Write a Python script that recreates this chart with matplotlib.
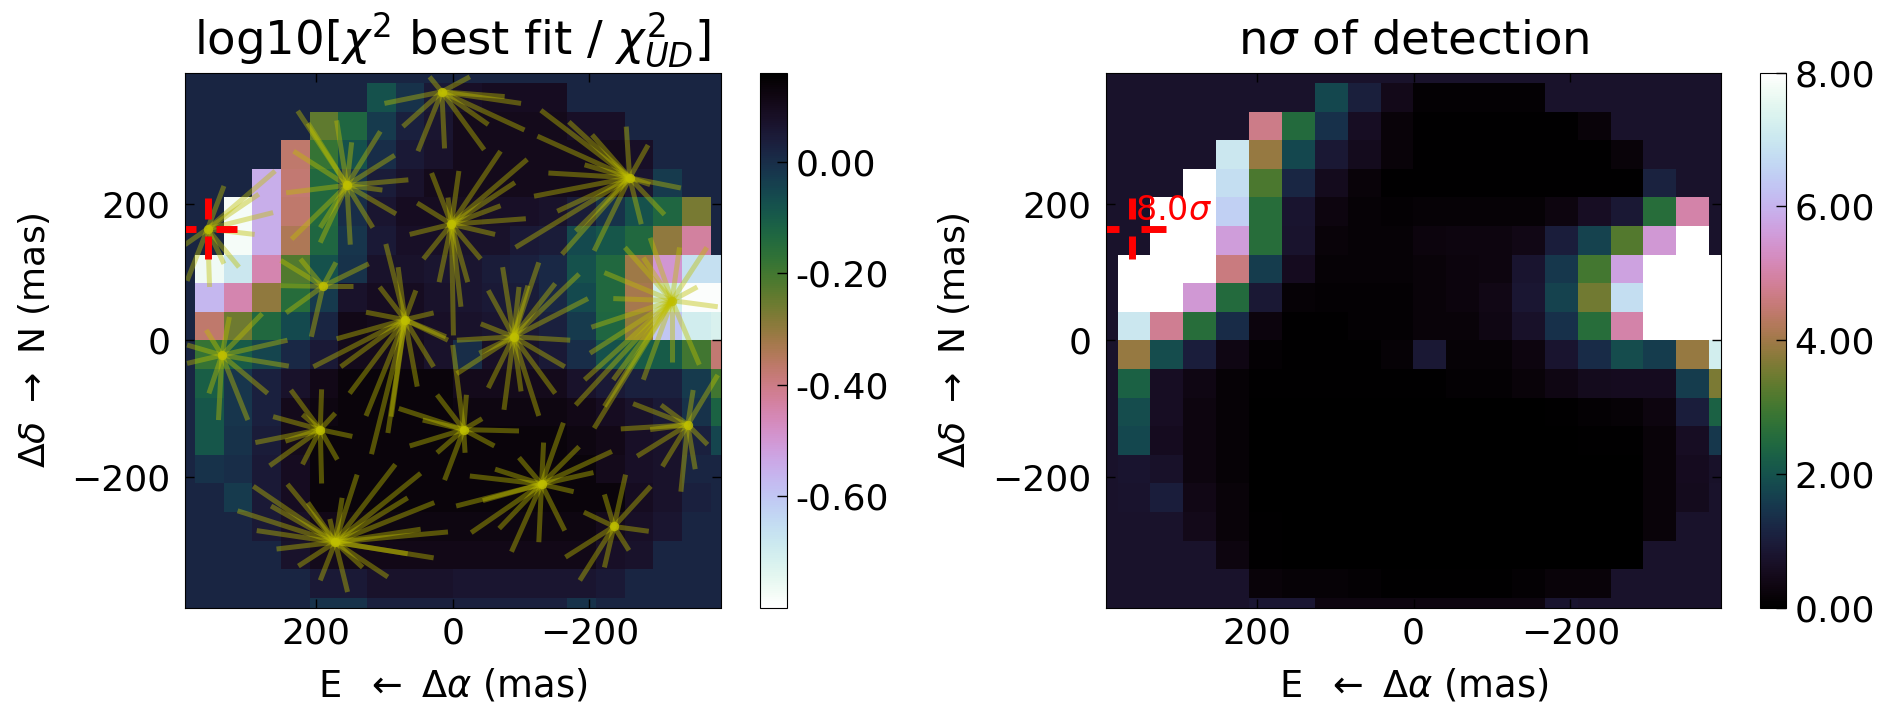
import numpy as np
import matplotlib
matplotlib.use("Agg")
import matplotlib.pyplot as plt

GRID_EDGE = 419.0
AX_LIM = 392.0

# log10 chi2 map, rows top -> bottom, columns E (left) -> W (right)
o = 0.02
chi_rows = [
 [o,o,o,o,o,o,o,o,o,o,o,o,o,o,o,o,o,o,o,o],
 [o,o,o,o,o,o,o,-.08,-.01,.05,.08,.09,.09,.09,o,o,o,o,o,o],
 [o,o,o,o,o,-.24,-.13,-.03,.03,.06,.1,.1,.1,.1,.08,.08,o,o,o,o],
 [o,o,o,o,-.37,-.18,-.08,0,.05,.07,.1,.1,.1,.1,.1,.1,.08,o,o,o],
 [o,o,o,-.55,-.38,-.14,-.02,.04,.07,.1,.1,.1,.1,.1,.1,.1,.06,-.03,o,o],
 [o,o,-.78,-.55,-.37,-.14,0,.06,.09,.09,.09,.08,.08,.07,.04,-.01,-.08,-.13,-.27,o],
 [o,o,-.78,-.55,-.34,-.13,-.02,.05,.08,.08,.07,.07,.05,.04,-.06,-.09,-.14,-.3,-.43,o],
 [o,-.77,-.68,-.45,-.22,-.08,-.01,.07,.07,.06,.06,.04,.03,.01,-.08,-.14,-.32,-.5,-.66,-.66],
 [o,-.57,-.45,-.3,-.15,-.03,.07,.09,.09,.07,.06,.05,.04,.01,-.06,-.14,-.33,-.7,-.79,-.79],
 [o,-.37,-.26,-.14,-.06,.02,.11,.1,.09,.08,.07,.06,.05,.03,-.03,-.13,-.3,-.6,-.7,-.72],
 [o,-.18,-.1,-.05,.01,.05,.1,.1,.1,.07,0,.08,.07,.05,0,-.08,-.1,-.1,-.2,-.38],
 [o,-.11,-.02,.03,.07,.11,.13,.13,.13,.13,.1,.1,.1,.1,.07,.05,.03,.03,-.03,-.2],
 [o,-.09,-.02,.03,.1,.12,.13,.13,.13,.13,.12,.12,.12,.12,.11,.09,.07,.05,-.01,-.12],
 [o,-.09,-.01,.04,.1,.13,.13,.13,.13,.13,.13,.13,.13,.13,.12,.11,.08,.07,.03,-.05],
 [o,-.01,0,.05,.09,.13,.13,.13,.13,.13,.13,.13,.13,.13,.13,.1,.08,.07,.02,o],
 [o,o,-.03,.05,.09,.13,.13,.13,.13,.13,.13,.13,.13,.13,.13,.13,.09,.07,.03,o],
 [o,o,o,.05,.08,.11,.12,.12,.12,.12,.12,.12,.12,.12,.12,.1,.08,.06,o,o],
 [o,o,o,o,.07,.1,.11,.11,.11,.11,.11,.11,.11,.11,.11,.08,.07,o,o,o],
 [o,o,o,o,o,.05,.05,.07,.07,.07,.06,.06,.06,.06,.06,.05,o,o,o,o],
 [o,o,o,o,o,-.01,-.01,.03,.03,.03,.03,.03,.03,.03,-.01,o,o,o,o,o],
]

b = 0.72
nsigma_rows = [
 [b]*20,
 [b,b,b,b,b,b,b,1.8,1.05,.45,.1,.1,.1,.1,b,b,b,b,b,b],
 [b,b,b,b,b,4.7,2.5,1.4,.6,.2,.05,.05,.05,.05,.05,.2,b,b,b,b],
 [b,b,b,b,7.0,3.9,1.8,.9,.5,.2,.05,.05,.05,.05,.05,.05,.2,b,b,b],
 [b,b,b,8,6.8,3.1,1.2,.5,.2,.05,.05,.05,.05,.05,.05,.05,.05,1.1,b,b],
 [b,b,8,8,6.5,2.6,.8,.3,.15,.1,.15,.15,.15,.15,.3,.6,.9,2.6,5.0,b],
 [b,b,8,8,5.6,2.6,.75,.2,.15,.15,.25,.3,.3,.4,1.0,1.7,3.2,5.5,8,b],
 [b,8,8,8,4.6,1.6,.55,.15,.15,.15,.2,.25,.3,.8,1.5,3.0,5.7,8,8,8],
 [b,8,8,5.5,2.5,.9,.15,.1,.1,.1,.2,.25,.4,.85,1.7,3.5,6.8,8,8,8],
 [b,7.0,4.8,2.6,1.3,.25,.05,.05,.1,.1,.2,.2,.35,.7,1.4,2.6,5.0,8,8,8],
 [b,3.9,1.9,1.0,.35,.1,.05,.05,.05,.15,.9,.15,.15,.3,.8,1.3,1.9,1.6,3.9,7.2],
 [b,2.3,.6,.35,.15,.05,.05,.05,.05,.05,.05,.1,.1,.2,.35,.5,.55,.55,1.6,3.6],
 [b,1.9,.6,.3,.15,.02,.02,.02,.02,.02,.02,.02,.02,.02,.05,.1,.15,.3,1.0,2.3],
 [b,1.8,.55,.3,.15,.02,.02,.02,.02,.02,.02,.02,.02,.02,.02,.05,.05,.2,.6,1.5],
 [b,.8,.7,.3,.15,0,0,0,0,0,0,0,0,0,0,0,0,.2,.55,.7],
 [b,.75,1.0,.4,.2,0,0,0,0,0,0,0,0,0,0,0,0,.2,.5,b],
 [b,b,b,.45,.2,.05,0,0,0,0,0,0,0,0,0,0,0,.2,b,b],
 [b,b,b,b,.3,.05,0,0,0,0,0,0,0,0,0,0,.02,b,b,b],
 [b,b,b,b,b,.2,.15,.15,.1,.05,.05,.05,.05,.1,.2,.2,b,b,b,b],
 [b,b,b,b,b,.85,.85,.3,.3,.3,.3,.3,.3,.3,.8,b,b,b,b,b],
]

# star centres (mas) and ray end points (mas)
star_x = [359,155,16,-259,2,190,70,-89,-321,338,194,-16,-344,-130,172,-236]
star_y = [163,227,364,238,170,79,30,5,58,-22,-131,-131,-124,-211,-296,-273]
ray_x = [
 [260,335,263,290,313,356,389,335,284,392],
 [227,212,170,148,106,85,65,103,83,117,150,194,236,244,233,194],
 [34,-25,-100,-76,-105,-52,-46,12,51,73,100],
 [-129,-170,-124,-204,-140,-119,-153,-92,-160,-207,-180,-254,-286,-334,-310,-276,-289,-193],
 [-70,-109,-91,-70,-107,-62,-41,-22,-1,-12,20,43,63,52,31,-9,7],
 [252,223,171,123,146,244,207,252],
 [98,80,54,107,127,28,10,204,164,151,127,95,119,52,28,7,170,90],
 [-73,-126,-97,-110,-150,-185,-198,-52,-41,-6,-6,-172,-164,-150,-126,-100,-75,-52,-39],
 [-252,-279,-222,-235,-203,-332,-372,-358,-388,-289,-207,-180,-222,-193,-235,-201,-279,-321,-361],
 [389,242,240,271,300,343,357,389,361,327,279],
 [237,192,172,220,263,289,268,220,192,169,147,245],
 [0,23,-20,-43,-97,-61,-18,12,23,63,79,44],
 [-388,-352,-305,-264,-246,-289,-270,-307,-334,-355,-373],
 [-162,-133,-185,-233,-206,-177,-164,-126,-86,-68,-27,-5,-44,-25,-62,-97],
 [84,47,66,27,7,47,28,66,95,132,154,194,226,258,287,315,292,242,212,266,140,162,180],
 [-290,-253,-222,-192,-287,-258,-222,-186,-165],
]
ray_y = [
 [248,226,187,155,107,78,87,112,214,140],
 [336,318,322,290,306,271,235,220,185,165,140,143,148,216,277,165],
 [386,386,347,357,308,316,279,281,277,313,347],
 [337,320,299,301,245,211,189,136,126,131,160,313,286,223,184,170,228,257],
 [277,265,231,197,178,155,119,85,7,49,85,119,155,201,245,248,209],
 [117,119,114,112,79,40,5,80],
 [141,107,73,78,41,40,5,-39,-39,-78,-111,-136,-167,-68,-39,0,2,-112],
 [107,114,78,80,83,97,61,73,24,-49,0,0,-39,-78,-111,-75,-102,-70,-19],
 [136,121,99,61,19,136,136,78,49,150,-129,-95,-97,-58,-58,-19,-58,-32,-36],
 [-7,0,-38,-78,-117,-117,-78,-34,15,34,39],
 [-73,-72,-107,-109,-112,-150,-184,-182,-210,-175,-141,-148],
 [-7,-80,-80,-115,-133,-155,-165,-205,-165,-155,-100,-117],
 [-51,-73,-95,-93,-130,-131,-170,-185,-222,-189,-153],
 [-121,-150,-156,-163,-194,-222,-279,-296,-310,-276,-282,-243,-235,-199,-189,-172],
 [-182,-195,-231,-238,-281,-277,-319,-313,-347,-333,-369,-352,-331,-306,-279,-250,-214,-211,-238,-243,-197,-231,-262],
 [-214,-197,-226,-252,-280,-308,-333,-352,-318],
]

# detection marker
best_x = 359
best_y = 163
cross_h = [(392, 376), (347, 316)]
cross_v = [(209, 177), (153, 119)]
detection_label = "8.0$\\sigma$"

chi_ticks = [0.0, -0.2, -0.4, -0.6]
sig_ticks = [0, 2, 4, 6, 8]
pos_ticks = [200, 0, -200]

W, H = 1888, 707
FS = 26
plt.rcParams.update({"font.size": FS, "font.family": "DejaVu Sans"})
fig = plt.figure(figsize=(W / 100, H / 100), dpi=100)


def axes_px(x0, x1, y0, y1):
    return fig.add_axes([x0 / W, 1 - y1 / H, (x1 - x0) / W, (y1 - y0) / H])


def style(ax, title, ylab_x):
    ax.set_xlim(AX_LIM, -AX_LIM)
    ax.set_ylim(-AX_LIM, AX_LIM)
    ax.set_aspect("auto")
    ax.set_xticks(pos_ticks)
    ax.set_yticks(pos_ticks)
    ax.tick_params(direction="in", top=True, right=True, length=6.5, width=1, labelsize=FS)
    ax.tick_params(axis="x", pad=6)
    ax.tick_params(axis="y", pad=10.5)
    ax.set_xlabel(r"E  $\leftarrow$ $\Delta\alpha$ (mas)", fontsize=26.5)
    ax.set_ylabel(r"$\Delta\delta$ $\rightarrow$ N (mas)", fontsize=26)
    ax.xaxis.set_label_coords(0.5, -0.112)
    ax.yaxis.set_label_coords(ylab_x, 0.5)
    ax.set_title(title, fontsize=33.5, pad=13.5)


def cross(ax):
    for a, c in cross_h:
        ax.plot([a, c], [best_y, best_y], color="red", lw=5, solid_capstyle="butt")
    for a, c in cross_v:
        ax.plot([best_x, best_x], [a, c], color="red", lw=5, solid_capstyle="butt")


extent = [GRID_EDGE, -GRID_EDGE, -GRID_EDGE, GRID_EDGE]

ax1 = axes_px(185, 720.5, 72.7, 607.7)
im1 = ax1.imshow(np.array(chi_rows), origin="upper", extent=extent, cmap="cubehelix_r",
                 vmin=-0.8, vmax=0.16, interpolation="nearest", aspect="auto")
for sx, sy, rx, ry in zip(star_x, star_y, ray_x, ray_y):
    for ex, ey in zip(rx, ry):
        ax1.plot([sx, ex], [sy, ey], color="y", alpha=0.42, lw=3.6, solid_capstyle="butt")
ax1.scatter(star_x, star_y, s=45, color="y", alpha=0.8, linewidths=0, zorder=3)
cross(ax1)
style(ax1, r"log10[$\chi^2$ best fit / $\chi^2_{UD}$]", -0.2486)

cax1 = axes_px(759.5, 787, 72.7, 607.7)
cb1 = fig.colorbar(im1, cax=cax1, format="%.2f")
cb1.set_ticks(chi_ticks)
cb1.ax.set_yticklabels(["%.2f" % t for t in chi_ticks])
cb1.ax.tick_params(direction="in", length=7.5, width=1, labelsize=FS, pad=6)

ax2 = axes_px(1106, 1721, 72.7, 607.7)
im2 = ax2.imshow(np.array(nsigma_rows), origin="upper", extent=extent, cmap="cubehelix",
                 vmin=0, vmax=8, interpolation="nearest", aspect="auto")
cross(ax2)
ax2.text(355, 190, detection_label, color="red", fontsize=24, ha="left", va="center")
style(ax2, r"n$\sigma$ of detection", -0.218)

cax2 = axes_px(1760, 1786, 72.7, 607.7)
cb2 = fig.colorbar(im2, cax=cax2)
cb2.set_ticks(sig_ticks)
cb2.ax.set_yticklabels(["%.2f" % t for t in sig_ticks])
cb2.ax.tick_params(direction="in", length=7.5, width=1, labelsize=FS, pad=6)

fig.savefig("out.png", dpi=100)
